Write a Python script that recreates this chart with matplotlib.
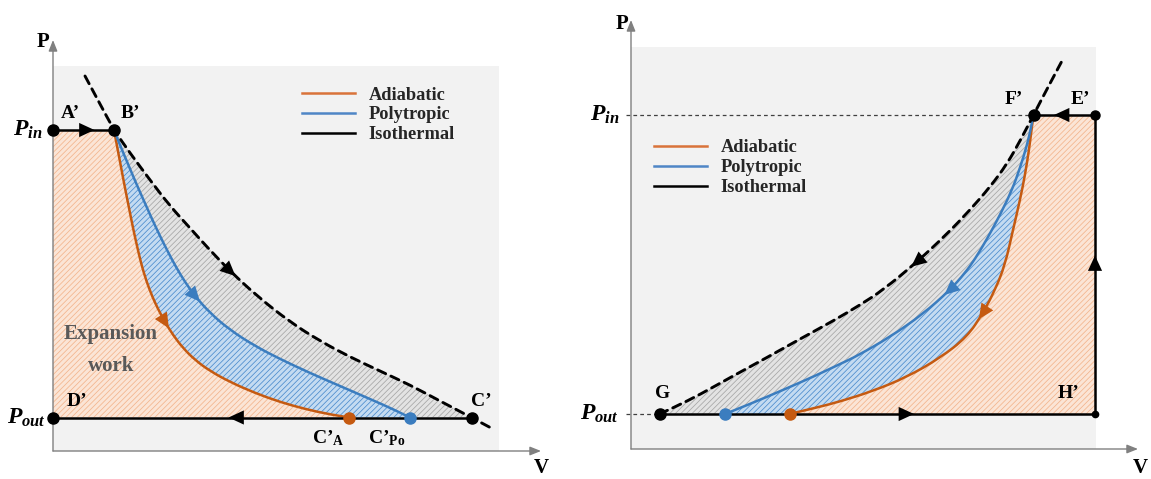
import numpy as np
import matplotlib.pyplot as plt
from matplotlib.lines import Line2D
from matplotlib.patches import Polygon, Rectangle, PathPatch
from matplotlib.path import Path

plt.rcParams['font.family'] = ['Liberation Serif', 'DejaVu Serif']
plt.rcParams['font.weight'] = 'bold'
plt.rcParams['mathtext.fontset'] = 'custom'
plt.rcParams['mathtext.it'] = 'Liberation Serif:italic:bold'
plt.rcParams['mathtext.rm'] = 'Liberation Serif:bold'
plt.rcParams['mathtext.bf'] = 'Liberation Serif:bold'
plt.rcParams['hatch.linewidth'] = 0.55

# ---- Expansión (panel izquierdo), unidades arbitrarias ----
exp_p_in = 64.2
exp_p_out = 6.7
exp_v_b = 12.2
exp_v_c = 83.7
exp_v_ca = 59.2
exp_v_cpo = 71.4

exp_iso_v = [6.4, 9.4, 12.2, 15.4, 19.4, 23.4, 27.4, 30.8, 35.4, 40.8, 47.4, 53.4, 59.4, 65.4, 71.4, 77.4, 83.7, 88.0]
exp_iso_p = [75.0, 69.4, 64.2, 59.6, 54.2, 49.0, 44.6, 40.8, 36.0, 31.0, 25.8, 22.0, 18.8, 16.0, 13.2, 10.0, 6.7, 4.4]

exp_poly_v = [12.2, 13.4, 15.0, 16.6, 18.2, 19.8, 21.4, 23.0, 24.6, 26.4, 28.4, 31.4, 35.4, 40.4, 45.4, 51.4, 57.4, 63.4, 68.4, 71.4]
exp_poly_p = [64.2, 61.2, 57.4, 53.6, 50.0, 46.4, 43.0, 39.8, 36.8, 33.8, 31.0, 27.6, 24.2, 21.0, 18.4, 15.6, 13.0, 10.4, 8.2, 6.7]

exp_adia_v = [12.2, 12.8, 13.6, 14.4, 15.2, 16.0, 16.8, 17.6, 18.6, 19.8, 21.0, 22.4, 24.0, 26.0, 28.4, 31.4, 35.4, 40.4, 45.4, 50.4, 55.4, 59.2]
exp_adia_p = [64.2, 61.0, 56.8, 52.6, 48.6, 44.6, 41.0, 37.6, 34.2, 31.0, 28.4, 25.8, 23.2, 20.6, 18.2, 16.0, 13.8, 11.6, 9.8, 8.4, 7.3, 6.7]

# ---- Compresión (panel derecho) ----
com_p_in = 66.8
com_p_out = 7.0
com_v_g = 5.7
com_v_f = 80.5
com_v_e = 92.8
com_v_po = 18.8
com_v_a = 31.7

com_iso_v = [5.7, 8.8, 13.8, 20.4, 27.2, 33.8, 40.4, 45.8, 50.4, 57.2, 63.2, 67.8, 71.8, 75.2, 77.8, 80.5, 83.2, 86.4]
com_iso_p = [7.0, 8.4, 10.9, 14.6, 18.3, 22.0, 25.6, 28.8, 31.8, 37.4, 43.0, 47.8, 52.4, 57.0, 61.6, 66.8, 72.0, 78.0]

com_poly_v = [18.8, 23.8, 30.4, 37.2, 41.8, 45.2, 51.8, 58.4, 63.8, 66.8, 68.8, 71.2, 73.8, 76.2, 77.8, 79.2, 80.0, 80.5]
com_poly_p = [7.0, 9.0, 11.8, 14.8, 17.0, 18.6, 22.4, 27.0, 31.8, 35.2, 38.0, 42.0, 46.8, 51.8, 56.2, 60.8, 64.2, 66.8]

com_adia_v = [31.7, 37.2, 41.8, 48.4, 55.2, 61.8, 67.2, 70.4, 72.8, 74.8, 76.4, 77.8, 78.8, 79.6, 80.1, 80.5]
com_adia_p = [7.0, 8.3, 9.5, 11.6, 14.4, 18.2, 22.4, 27.2, 31.8, 36.8, 43.8, 49.8, 54.8, 59.8, 63.8, 66.8]

leyenda = ['Adiabatic', 'Polytropic', 'Isothermal']

NARANJA = '#c55a11'
AZUL = '#3b7dbf'
GRIS_EJE = '#808080'


def camino(xs, ys):
    """Camino suave (Bezier cuadrática) que pasa por los extremos de la curva leída."""
    p = np.column_stack([xs, ys])
    verts = [p[0]]
    codes = [Path.MOVETO]
    for i in range(1, len(p) - 1):
        fin = p[i + 1] if i == len(p) - 2 else (p[i] + p[i + 1]) / 2
        verts += [p[i], fin]
        codes += [Path.CURVE3, Path.CURVE3]
    if len(p) == 2:
        verts.append(p[1])
        codes.append(Path.LINETO)
    return Path(verts, codes)


def puntos(xs, ys):
    """Vértices del camino suave, ya aplanado por matplotlib."""
    return camino(xs, ys).to_polygons(closed_only=False)[0]


def curva(ax, xs, ys, **kw):
    ax.add_patch(PathPatch(camino(xs, ys), fill=False, capstyle='round', **kw))


def cabeza(ax, x, y, dx, dy, color, largo=1.5):
    """Dibuja una punta de flecha centrada en (x, y) en la dirección (dx, dy)."""
    n = np.hypot(dx, dy)
    ux, uy = dx / n * largo, dy / n * largo
    ax.annotate('', xy=(x + ux, y + uy), xytext=(x - ux, y - uy),
                arrowprops=dict(arrowstyle='-|>,head_length=0.65,head_width=0.3', color=color,
                                lw=0, mutation_scale=17, shrinkA=0, shrinkB=0),
                annotation_clip=False, zorder=6)


def cabeza_curva(ax, xs, ys, i, j, color):
    """Punta de flecha sobre el punto i de una curva, apuntando hacia el punto j."""
    cabeza(ax, xs[i], ys[i], xs[j] - xs[i], ys[j] - ys[i], color)


def zona(ax, partes, cara, trama):
    """Rellena con trama diagonal fina el contorno formado por varias partes."""
    contorno = np.vstack(partes)
    ax.add_patch(Polygon(contorno, closed=True, facecolor=cara, edgecolor=trama,
                         hatch='//////', lw=0, zorder=1))


def ejes(ax, xmax, ymax):
    ax.set_xlim(0, xmax)
    ax.set_ylim(0, ymax)
    ax.axis('off')
    flecha = dict(arrowstyle='-|>,head_length=0.55,head_width=0.22', color=GRIS_EJE, lw=1.0,
                  mutation_scale=12, shrinkA=0, shrinkB=0)
    ax.annotate('', xy=(xmax, 0), xytext=(0, 0), arrowprops=flecha, annotation_clip=False, zorder=2)
    ax.annotate('', xy=(0, ymax), xytext=(0, 0), arrowprops=flecha, annotation_clip=False, zorder=2)


def poner_leyenda(ax, x, y):
    manejadores = [Line2D([], [], color='#d9733a', lw=1.8), Line2D([], [], color='#4f86c6', lw=1.8),
                   Line2D([], [], color='black', lw=1.8)]
    ax.legend(manejadores, leyenda, loc='upper left', bbox_to_anchor=(x, y), bbox_transform=ax.transData,
              frameon=False, borderpad=0, borderaxespad=0, handlelength=2.9, handletextpad=0.75,
              labelspacing=0.16, labelcolor='#262626',
              prop=dict(family='Liberation Serif', weight='bold', size=13.2))


fig = plt.figure(figsize=(11.51, 4.79), dpi=100)
etiqueta = dict(fontsize=14, fontweight='bold', ha='center', va='center', zorder=7)

NAR_CARA, NAR_TRAMA = '#fbe5d6', '#f3b48c'
AZU_CARA, AZU_TRAMA = '#c4dbf1', '#4a8bcd'
GRI_CARA, GRI_TRAMA = '#e3e3e3', '#a6a6a6'

# ================= Panel izquierdo =================
ax1 = fig.add_axes([53 / 1151, 28 / 479, 488 / 1151, 411 / 479])
ejes(ax1, 97.6, 82.2)
ax1.add_patch(Rectangle((0, 0), 89.2, 77.0, facecolor='#f2f2f2', edgecolor='none', zorder=0))

e_adia = puntos(exp_adia_v, exp_adia_p)
e_poly = puntos(exp_poly_v, exp_poly_p)
e_iso = puntos(exp_iso_v[2:17], exp_iso_p[2:17])
zona(ax1, [[(0, exp_p_in)], e_adia, [(0, exp_p_out)]], NAR_CARA, NAR_TRAMA)
zona(ax1, [e_poly, e_adia[::-1]], AZU_CARA, AZU_TRAMA)
zona(ax1, [e_iso, e_poly[::-1]], GRI_CARA, GRI_TRAMA)

curva(ax1, exp_adia_v, exp_adia_p, edgecolor=NARANJA, lw=1.8, zorder=3)
curva(ax1, exp_poly_v, exp_poly_p, edgecolor=AZUL, lw=1.8, zorder=3)
curva(ax1, exp_iso_v, exp_iso_p, edgecolor='black', lw=2.1, ls=(0, (3, 2)), zorder=3)
ax1.plot([0, exp_v_b], [exp_p_in, exp_p_in], color='black', lw=1.8, zorder=4, clip_on=False)
ax1.plot([0, exp_v_c], [exp_p_out, exp_p_out], color='black', lw=1.8, zorder=4, clip_on=False)

cabeza_curva(ax1, exp_iso_v, exp_iso_p, 8, 9, 'black')
cabeza_curva(ax1, exp_poly_v, exp_poly_p, 10, 11, AZUL)
cabeza_curva(ax1, exp_adia_v, exp_adia_p, 11, 12, NARANJA)
cabeza(ax1, 6.8, exp_p_in, 1, 0, 'black')
cabeza(ax1, 36.6, exp_p_out, -1, 0, 'black')

ax1.plot([0, exp_v_b, exp_v_c, 0], [exp_p_in, exp_p_in, exp_p_out, exp_p_out], 'o', color='black',
         ms=8, zorder=7, clip_on=False)
ax1.plot(exp_v_ca, exp_p_out, 'o', color=NARANJA, ms=8, zorder=7)
ax1.plot(exp_v_cpo, exp_p_out, 'o', color=AZUL, ms=8, zorder=7)

ax1.text(3.4, 67.6, 'A’', **etiqueta)
ax1.text(15.4, 67.6, 'B’', **etiqueta)
ax1.text(85.6, 10.0, 'C’', **etiqueta)
ax1.text(4.8, 9.8, 'D’', **etiqueta)
ax1.text(55.0, 2.6, 'C’$_\\mathbf{A}$', **etiqueta)
ax1.text(66.8, 2.6, 'C’$_\\mathbf{Po}$', **etiqueta)
ax1.text(11.6, 20.2, 'Expansion\nwork', fontsize=15, fontweight='bold', color='#595959',
         ha='center', va='center', linespacing=1.75, zorder=7)
ax1.text(-2.2, exp_p_in, '$P_{in}$', fontsize=17, ha='right', va='center')
ax1.text(-1.4, exp_p_out, '$P_{out}$', fontsize=17, ha='right', va='center')
ax1.text(-2.0, 81.8, 'P', fontsize=15, fontweight='bold', ha='center', va='center')
ax1.text(97.6, -5.4, 'V', fontsize=15, fontweight='bold', ha='center', va='bottom')
poner_leyenda(ax1, 49.8, 72.9)

# ================= Panel derecho =================
ax2 = fig.add_axes([631 / 1151, 30 / 479, 507 / 1151, 429 / 479])
ejes(ax2, 101.4, 85.8)
ax2.add_patch(Rectangle((0, 0), 93.0, 80.4, facecolor='#f2f2f2', edgecolor='none', zorder=0))

c_adia = puntos(com_adia_v, com_adia_p)
c_poly = puntos(com_poly_v, com_poly_p)
c_iso = puntos(com_iso_v[:16], com_iso_p[:16])
zona(ax2, [c_adia, [(com_v_e, com_p_in), (com_v_e, com_p_out)]], NAR_CARA, NAR_TRAMA)
zona(ax2, [c_poly, c_adia[::-1]], AZU_CARA, AZU_TRAMA)
zona(ax2, [c_iso, c_poly[::-1]], GRI_CARA, GRI_TRAMA)

ax2.plot([-1.0, com_v_f], [com_p_in, com_p_in], color='#404040', lw=0.9, ls=(0, (3, 2.5)), zorder=2, clip_on=False)
ax2.plot([-1.0, com_v_g], [com_p_out, com_p_out], color='#404040', lw=0.9, ls=(0, (3, 2.5)), zorder=2, clip_on=False)

curva(ax2, com_adia_v, com_adia_p, edgecolor=NARANJA, lw=1.8, zorder=3)
curva(ax2, com_poly_v, com_poly_p, edgecolor=AZUL, lw=1.8, zorder=3)
curva(ax2, com_iso_v, com_iso_p, edgecolor='black', lw=2.1, ls=(0, (3, 2)), zorder=3)
ax2.plot([com_v_g, com_v_e, com_v_e, com_v_f], [com_p_out, com_p_out, com_p_in, com_p_in],
         color='black', lw=1.8, zorder=4)

cabeza_curva(ax2, com_iso_v, com_iso_p, 9, 8, 'black')
cabeza_curva(ax2, com_poly_v, com_poly_p, 8, 7, AZUL)
cabeza_curva(ax2, com_adia_v, com_adia_p, 7, 6, NARANJA)
cabeza(ax2, 86.1, com_p_in, -1, 0, 'black')
cabeza(ax2, com_v_e, 37.2, 0, 1, 'black')
cabeza(ax2, 55.1, com_p_out, 1, 0, 'black')

ax2.plot([com_v_g, com_v_f], [com_p_out, com_p_in], 'o', color='black', ms=8, zorder=7)
ax2.plot(com_v_e, com_p_in, 'o', color='black', ms=6.5, zorder=7)
ax2.plot(com_v_e, com_p_out, 'o', color='black', ms=4.5, zorder=7)
ax2.plot(com_v_po, com_p_out, 'o', color=AZUL, ms=8, zorder=7)
ax2.plot(com_v_a, com_p_out, 'o', color=NARANJA, ms=8, zorder=7)

ax2.text(76.6, 70.0, 'F’', **etiqueta)
ax2.text(89.8, 70.0, 'E’', **etiqueta)
ax2.text(6.4, 11.0, 'G', **etiqueta)
ax2.text(87.6, 11.0, 'H’', **etiqueta)
ax2.text(-2.4, com_p_in, '$P_{in}$', fontsize=17, ha='right', va='center')
ax2.text(-2.4, com_p_out, '$P_{out}$', fontsize=17, ha='right', va='center')
ax2.text(-1.8, 85.0, 'P', fontsize=15, fontweight='bold', ha='center', va='center')
ax2.text(101.8, -5.8, 'V', fontsize=15, fontweight='bold', ha='center', va='bottom')
poner_leyenda(ax2, 4.6, 61.9)

fig.savefig('out.png', dpi=100, facecolor='white')
